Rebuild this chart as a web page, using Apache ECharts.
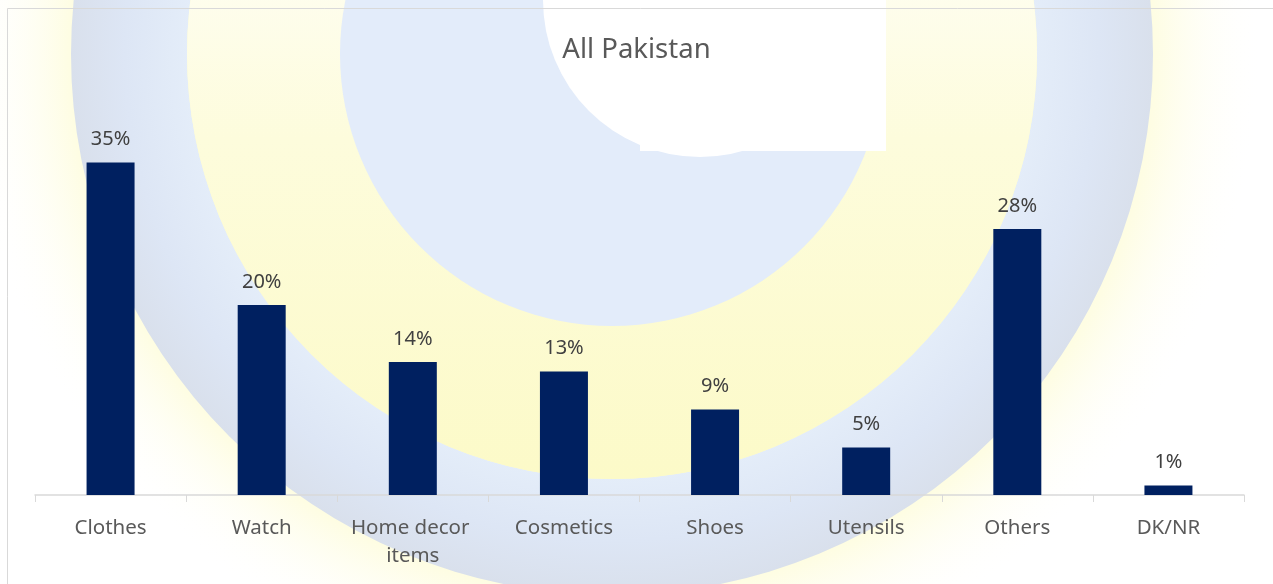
<!DOCTYPE html>
<html>
<head>
<meta charset="utf-8">
<script src="https://cdn.jsdelivr.net/npm/echarts@6/dist/echarts.min.js"></script>
<style>
  html, body { margin: 0; padding: 0; background: #fff; }
  #chart { width: 1273px; height: 584px; }
</style>
</head>
<body>
<div id="chart"></div>
<script>
const categories = ["Clothes", "Watch", "Home decor items", "Cosmetics", "Shoes", "Utensils", "Others", "DK/NR"]
const shares = [35, 20, 14, 13, 9, 5, 28, 1]

const chart = echarts.init(document.getElementById("chart"))
const font = "'Noto Sans', 'Open Sans', sans-serif"

// faint logo watermark behind the plot
const watermark = [
  { type: "circle", shape: { cx: 612, cy: 54, r: 650 },
    style: { fill: { type: "radial", x: 0.5, y: 0.5, r: 0.5,
      colorStops: [{ offset: 0.78, color: "rgba(253,251,200,0.9)" }, { offset: 1, color: "rgba(255,255,255,0)" }] } } },
  { type: "ring", shape: { cx: 612, cy: 54, r: 541, r0: 425 },
    style: { fill: { type: "radial", x: 0.5, y: 0.5, r: 0.5,
      colorStops: [{ offset: 0.78, color: "#e4edf9" }, { offset: 0.9, color: "#dde6f5" }, { offset: 1, color: "#d9e0ec" }] } } },
  { type: "circle", shape: { cx: 612, cy: 54, r: 425 },
    style: { fill: { type: "linear", x: 0, y: 0, x2: 0, y2: 1,
      colorStops: [{ offset: 0.25, color: "#ffffff" }, { offset: 0.6, color: "#fdfcdc" }, { offset: 1, color: "#fcfac8" }] } } },
  { type: "circle", shape: { cx: 612, cy: 54, r: 272 }, style: { fill: "#e3ecfa" } },
  // G opening
  { type: "rect", shape: { x: 640, y: 0, width: 246, height: 151 }, style: { fill: "#ffffff" } },
  { type: "circle", shape: { cx: 700, cy: 0, r: 157 }, style: { fill: "#ffffff" } }
].map((g) => ({ ...g, silent: true, z: -10 }))

chart.setOption({
  backgroundColor: "#ffffff",
  animation: false,
  graphic: [
    ...watermark,
    { type: "rect", silent: true, z: -5,
      shape: { x: 7.5, y: 8.5, width: 1300, height: 600 },
      style: { fill: "none", stroke: "#d9d9d9", lineWidth: 1 } }
  ],
  title: {
    text: "All Pakistan",
    left: "center",
    top: 31,
    textStyle: { fontFamily: font, fontSize: 27.5, fontWeight: "normal", color: "#595959" },
  },
  grid: { left: 35, right: 29, top: 115, bottom: 89 },
  xAxis: {
    type: "category",
    data: categories,
    axisLine: { lineStyle: { color: "#d9d9d9", width: 1.5 } },
    axisTick: { show: true, length: 7, lineStyle: { color: "#d9d9d9" } },
    axisLabel: {
      interval: 0,
      margin: 19,
      width: 140,
      overflow: "break",
      lineHeight: 28,
      fontFamily: font,
      fontSize: 20.5,
      color: "#595959",
    },
  },
  yAxis: {
    type: "value",
    min: 0,
    max: 40,
    show: false,
    splitLine: { show: false },
  },
  series: [
    {
      type: "bar",
      data: shares,
      barWidth: 48,
      itemStyle: { color: "#002060" },
      label: {
        show: true,
        position: "top",
        distance: 13,
        formatter: (p) => p.value + "%",
        fontFamily: font,
        fontSize: 20,
        color: "#404040",
      },
    },
  ],
})
</script>
</body>
</html>
